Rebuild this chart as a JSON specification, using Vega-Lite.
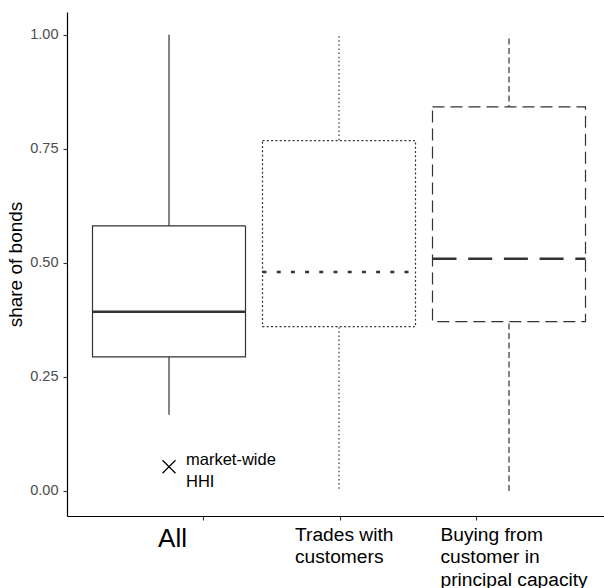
{
  "$schema": "https://vega.github.io/schema/vega-lite/v6.json",
  "width": 537,
  "height": 504,
  "autosize": {"type": "none"},
  "padding": {"left": 67, "top": 12, "right": 0, "bottom": 72},
  "background": "white",
  "config": {
    "view": {"stroke": null},
    "font": "Liberation Sans",
    "axisY": {
      "grid": false,
      "domainColor": "black",
      "domainWidth": 1.2,
      "tickColor": "#333333",
      "tickSize": 4,
      "tickWidth": 1.1,
      "labelColor": "#4d4d4d",
      "labelFontSize": 14.5,
      "labelPadding": 5,
      "titleFontSize": 19,
      "titleFontWeight": "normal",
      "titleColor": "black",
      "titlePadding": 4
    }
  },
  "datasets": {
    "boxes": [
      {"sample": "All", "lower": 0.167, "q1": 0.294, "median": 0.393, "q3": 0.581, "upper": 1.0},
      {"sample": "Trades with customers", "lower": 0.005, "q1": 0.36, "median": 0.48, "q3": 0.768, "upper": 1.0},
      {"sample": "Buying from customer in principal capacity", "lower": 0.0, "q1": 0.371, "median": 0.509, "q3": 0.842, "upper": 1.0}
    ],
    "hhi": [
      {"sample": "All", "hhi": 0.053, "label": "market-wide\nHHI"}
    ]
  },
  "resolve": {"scale": {"x": "independent"}, "axis": {"x": "independent"}},
  "layer": [
    {
      "layer": [
        {
          "data": {"name": "boxes"},
          "mark": {"type": "rule", "color": "#333333", "strokeWidth": 1.2},
          "encoding": {
            "x": {
              "field": "sample", "type": "nominal", "title": null,
              "scale": {"type": "band", "domain": ["All", "Trades with customers", "Buying from customer in principal capacity"], "range": [0, 544], "paddingInner": 0.1, "paddingOuter": 0.15},
              "axis": {"orient": "bottom", "domain": true, "domainColor": "black", "domainWidth": 1.2, "ticks": false, "labels": false, "grid": false}
            },
            "y": {
              "field": "lower", "type": "quantitative", "title": "share of bonds",
              "scale": {"domain": [-0.055, 1.05], "nice": false, "zero": false},
              "axis": {"values": [0, 0.25, 0.5, 0.75, 1], "format": ".2f"}
            },
            "y2": {"field": "upper"},
            "strokeDash": {
              "condition": [
                {"test": "datum.sample === 'Trades with customers'", "value": [1.5, 2.6]},
                {"test": "datum.sample === 'Buying from customer in principal capacity'", "value": [6, 3.5]}
              ],
              "value": [1, 0]
            }
          }
        },
        {
          "data": {"name": "boxes"},
          "mark": {"type": "bar", "fill": "white", "stroke": "#333333", "strokeWidth": 1.2},
          "encoding": {
            "x": {"field": "sample", "type": "nominal", "title": null},
            "y": {"field": "q1", "type": "quantitative", "title": "share of bonds"},
            "y2": {"field": "q3"},
            "strokeDash": {
              "condition": [
                {"test": "datum.sample === 'Trades with customers'", "value": [2, 2.3]},
                {"test": "datum.sample === 'Buying from customer in principal capacity'", "value": [12, 6]}
              ],
              "value": [1, 0]
            }
          }
        },
        {
          "data": {"name": "boxes"},
          "mark": {"type": "rule", "color": "#333333", "strokeWidth": 2.5, "strokeCap": "butt"},
          "encoding": {
            "x": {"field": "sample", "type": "nominal", "title": null, "bandPosition": 0},
            "x2": {"field": "sample", "bandPosition": 1},
            "y": {"field": "median", "type": "quantitative", "title": "share of bonds"},
            "strokeDash": {
              "condition": [
                {"test": "datum.sample === 'Trades with customers'", "value": [4, 10.2]},
                {"test": "datum.sample === 'Buying from customer in principal capacity'", "value": [24, 11.7]}
              ],
              "value": [1, 0]
            }
          }
        },
        {
          "data": {"name": "hhi"},
          "mark": {"type": "point", "shape": "M-1,-1L1,1M-1,1L1,-1", "size": 169, "filled": false, "stroke": "black", "strokeWidth": 1.2, "opacity": 1},
          "encoding": {
            "x": {"field": "sample", "type": "nominal", "title": null},
            "y": {"field": "hhi", "type": "quantitative", "title": "share of bonds"}
          }
        },
        {
          "data": {"name": "hhi"},
          "mark": {"type": "text", "align": "left", "baseline": "middle", "dx": 17, "dy": -7, "fontSize": 16.5, "lineBreak": "\n", "lineHeight": 22, "color": "black"},
          "encoding": {
            "x": {"field": "sample", "type": "nominal", "title": null},
            "y": {"field": "hhi", "type": "quantitative", "title": "share of bonds"},
            "text": {"field": "label"}
          }
        }
      ]
    },
    {
      "data": {"name": "boxes"},
      "mark": {"type": "point", "opacity": 0},
      "encoding": {
        "x": {
          "field": "sample", "type": "nominal", "title": null,
          "scale": {"type": "point", "domain": ["All", "Trades with customers", "Buying from customer in principal capacity"], "range": [136, 409], "padding": 0},
          "axis": {
            "orient": "bottom",
            "domain": false,
            "grid": false,
            "ticks": true,
            "tickSize": 4,
            "tickWidth": 1.1,
            "tickColor": "#333333",
            "labelAngle": 0,
            "labelExpr": "datum.value === 'All' ? 'All' : datum.value === 'Trades with customers' ? ['Trades with', 'customers'] : ['Buying from', 'customer in', 'principal capacity']",
            "labelColor": "black",
            "labelFontSize": {"condition": {"test": "datum.value === 'All'", "value": 26}, "value": 19.2},
            "labelAlign": {"condition": {"test": "datum.value === 'All'", "value": "center"}, "value": "left"},
            "labelOffset": {
              "condition": [
                {"test": "datum.value === 'All'", "value": -31},
                {"test": "datum.value === 'Trades with customers'", "value": -45}
              ],
              "value": -36
            },
            "labelBaseline": "top",
            "labelPadding": 5,
            "labelLineHeight": 22.5,
            "labelLimit": 0,
            "labelOverlap": false,
            "labelFlush": false,
            "labelBound": false
          }
        },
        "y": {"field": "median", "type": "quantitative", "title": "share of bonds"}
      }
    }
  ]
}
